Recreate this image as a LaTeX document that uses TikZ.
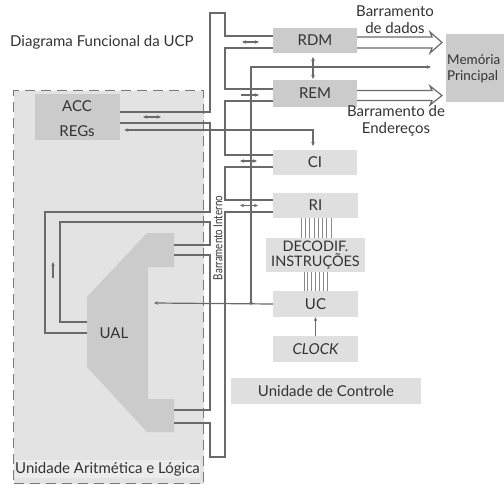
\documentclass[tikz,border=0pt]{standalone}
\usepackage{fontspec}
\setmainfont{Lato}
\usetikzlibrary{arrows.meta}
\definecolor{ln}{HTML}{6A6A6A}
\definecolor{txt}{HTML}{333333}
\definecolor{boxdark}{HTML}{CBCBCB}
\definecolor{boxlight}{HTML}{DFDFDF}
\definecolor{alufill}{HTML}{E3E3E3}
\begin{document}
\begin{tikzpicture}[x=1bp,y=-1bp,
  every node/.style={text=txt,font=\fontsize{15bp}{17bp}\selectfont,inner sep=0pt},
  dbox/.style={fill=boxdark,draw=none},
  lbox/.style={fill=boxlight,draw=none},
  wire/.style={draw=ln,line width=1.2bp},
  tip/.style={wire,-{Stealth[length=4bp,width=3.5bp]}},
  tips/.style={wire,{Stealth[length=4bp,width=3.5bp]}-{Stealth[length=4bp,width=3.5bp]}},
  bar/.style={draw=ln!80,line width=0.8bp}]
\useasboundingbox (0,0) rectangle (504,490);
% ALU region
\node[fill=alufill,draw=ln!90,line width=1.4bp,dash pattern=on 10bp off 6bp,minimum width=190bp,minimum height=393bp,anchor=north west] (ualbox) at (13,90) {};
\node[fill=boxlight!60,minimum width=185bp,minimum height=18bp] (uallabel) at (107.5,469) {Unidade Aritmética e Lógica};
\node[dbox,minimum width=85bp,minimum height=46bp] (acc) at (77.5,117) {};
\node (acct) at (77,106) {ACC};
\node (regt) at (77,131) {REGs};
% UAL shape
\fill[boxdark] (147,233) -- (174,233) -- (174,267) -- (148,267) -- (148,399) -- (174,399) -- (174,432) -- (147,432) -- (87,367) -- (87,297) -- cycle;
\node (ual) at (114,333) {UAL};
% title
\node[anchor=west] (title) at (10,42) {Diagrama Funcional da UCP};
% control unit boxes
\node[dbox,minimum width=84bp,minimum height=25bp] (rdm) at (315,40.5) {RDM};
\node[dbox,minimum width=84bp,minimum height=27bp] (rem) at (315,93.5) {REM};
\node[lbox,minimum width=84bp,minimum height=25bp] (ci) at (315,162.5) {CI};
\node[lbox,minimum width=85bp,minimum height=25bp] (ri) at (315.5,205.5) {RI};
\node[lbox,minimum width=99bp,minimum height=34bp,align=center,font=\fontsize{14.5bp}{14.5bp}\selectfont] (dec) at (315.5,255) {DECODIF.\\INSTRUÇÕES};
\node[lbox,minimum width=85bp,minimum height=26bp] (uc) at (315.5,304) {UC};
\node[lbox,minimum width=85bp,minimum height=26bp,font=\fontsize{15bp}{17bp}\selectfont\itshape] (clock) at (315.5,349) {CLOCK};
\node[lbox,minimum width=190bp,minimum height=26bp] (udc) at (326,391) {Unidade de Controle};
\node[dbox,minimum width=74bp,minimum height=68bp,anchor=north west] (mem) at (446,34) {};
\node[anchor=west,align=left,font=\fontsize{13.5bp}{16bp}\selectfont] (memt) at (447,69) {Memória\\Principal};
% bus labels
\node[align=center] (dlab) at (395,20) {Barramento\\de dados};
\node[align=center] (alab) at (396,121) {Barramento de\\Endereços};
\node[rotate=90,font=\fontsize{12.5bp}{14bp}\selectfont,xscale=0.78] (bi) at (218,238) {Barramento Interno};
% internal bus outline
\draw[wire] (acc.east |- 0,123) -- (210,123) -- (210,212) -- (45,212) -- (45,333) -- (87,333);
\draw[wire] (87,322) -- (60,322) -- (60,222) -- (210,222) -- (210,245) -- (174,245);
\draw[wire] (174,255) -- (210,255) -- (210,410) -- (174,410);
\draw[wire] (174,423) -- (210,423) -- (210,457) -- (225,457) -- (225,212) -- (ri.west |- 0,212);
\draw[wire] (ri.west |- 0,200) -- (225,200) -- (225,167) -- (ci.west |- 0,167);
\draw[wire] (ci.west |- 0,155) -- (225,155) -- (225,101) -- (rem.west |- 0,101);
\draw[wire] (rem.west |- 0,89) -- (225,89) -- (225,48) -- (rdm.west |- 0,48);
\draw[wire] (rdm.west |- 0,36) -- (225,36) -- (225,13) -- (210,13) -- (210,112) -- (acc.east |- 0,112);
% small bus arrows
\draw[tips] (242,42) -- (259,42);
\draw[tip] (241,95) -- (259,95);
\draw[tips] (240,161) -- (257,161);
\draw[tips] (240,205.5) -- (258,205.5);
\draw[tips] (143,117) -- (161,117);
\draw[tip] (53,278) -- (53,262);
% control lines
\coordinate (j1) at (251,130);
\coordinate (j2) at (251,303);
\draw[tip] (j2) -- (251,67) -- (431,67);
\draw[tip] (uc.west) -- (154,303);
\draw[tips] (acc.east |- 0,130) ++(4,0) -- (313,130) -- (313,146);
\draw[tips] (313,57) -- (313,79);
\fill[ln] (j1) circle (1.8bp) (j2) circle (1.8bp);
\draw[tip] (clock.north) -- (uc.south);
% hollow buses
\draw[wire,line join=miter] (rdm.east |- 0,37) -- (432,37) -- (430,32) -- (442,42.5) -- (430,53) -- (432,48) -- (rdm.east |- 0,48);
\draw[wire,line join=miter] (rem.east |- 0,90.5) -- (432,90.5) -- (430,86) -- (442,95.5) -- (430,105) -- (432,100.5) -- (rem.east |- 0,100.5);
% decoder bars
\foreach \i in {0,...,7} \draw[bar] (301+\i*4.3,218) -- (301+\i*4.3,238);
\foreach \i in {0,...,6} \draw[bar] (304+\i*3.85,272) -- (304+\i*3.85,291);
\end{tikzpicture}
\end{document}
